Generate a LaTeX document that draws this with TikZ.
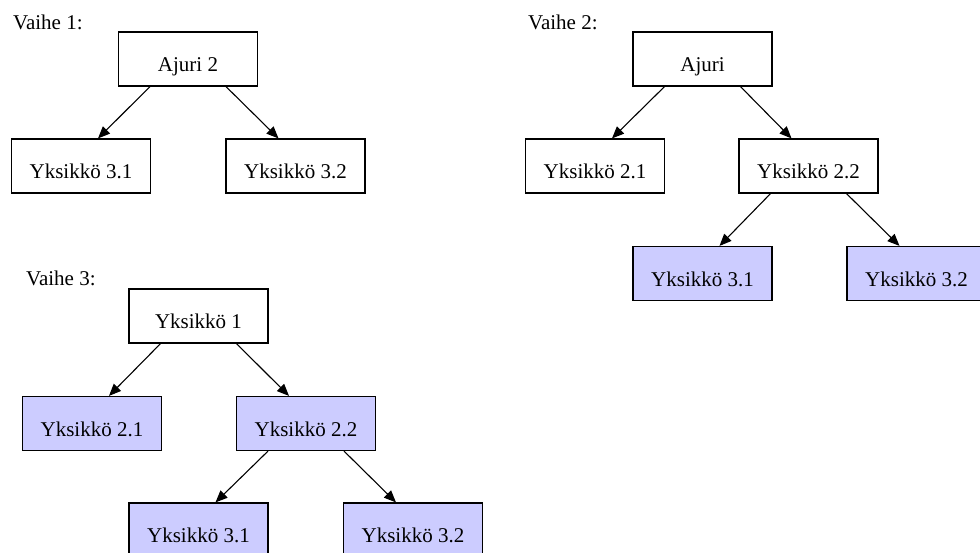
\documentclass[tikz,border=0pt]{standalone}
\usepackage{fontspec}
\setmainfont{Liberation Serif}
\usetikzlibrary{arrows.meta, positioning}
\definecolor{vaiheblue}{RGB}{204, 204, 255}

\begin{document}
\begin{tikzpicture}[x=1pt, y=-1pt,
    laatikko/.style={draw, line width=1.2pt, minimum width=139pt, minimum height=54pt,
        inner sep=0pt, text height=25pt, text depth=0pt, font=\fontsize{21}{25}\selectfont},
    uusi/.style={laatikko, fill=vaiheblue},
    otsikko/.style={anchor=base west, inner sep=0pt, font=\fontsize{21}{25}\selectfont},
    nuoli/.style={-{Triangle[length=12pt, width=10pt]}, line width=1.1pt}]
    \useasboundingbox (0,0) rectangle (980,552);

    % Vaihe 1
    \node[otsikko] (v1) at (13,29) {Vaihe 1:};
    \node[laatikko] (a2) at (188,59) {Ajuri 2};
    \node[laatikko] (a31) at (81,166) {Yksikkö 3.1};
    \node[laatikko] (a32) at (295.5,166) {Yksikkö 3.2};
    \draw[nuoli] ([xshift=-38pt]a2.south) -- ([xshift=17pt]a31.north);
    \draw[nuoli] ([xshift=38pt]a2.south) -- ([xshift=-17pt]a32.north);

    % Vaihe 2
    \node[otsikko] (v2) at (528,29) {Vaihe 2:};
    \node[laatikko] (b0) at (702.5,59) {Ajuri};
    \node[laatikko] (b21) at (595,166) {Yksikkö 2.1};
    \node[laatikko] (b22) at (808.5,166) {Yksikkö 2.2};
    \node[uusi] (b31) at (702.5,273.5) {Yksikkö 3.1};
    \node[uusi] (b32) at (916.5,273.5) {Yksikkö 3.2};
    \draw[nuoli] ([xshift=-38pt]b0.south) -- ([xshift=17pt]b21.north);
    \draw[nuoli] ([xshift=38pt]b0.south) -- ([xshift=-17pt]b22.north);
    \draw[nuoli] ([xshift=-38pt]b22.south) -- ([xshift=17pt]b31.north);
    \draw[nuoli] ([xshift=38pt]b22.south) -- ([xshift=-17pt]b32.north);

    % Vaihe 3
    \node[otsikko] (v3) at (26,285) {Vaihe 3:};
    \node[laatikko] (c1) at (198.5,316) {Yksikkö 1};
    \node[uusi] (c21) at (92,423.5) {Yksikkö 2.1};
    \node[uusi] (c22) at (306,423.5) {Yksikkö 2.2};
    \node[uusi] (c31) at (198.5,530) {Yksikkö 3.1};
    \node[uusi] (c32) at (413,530) {Yksikkö 3.2};
    \draw[nuoli] ([xshift=-38pt]c1.south) -- ([xshift=17pt]c21.north);
    \draw[nuoli] ([xshift=38pt]c1.south) -- ([xshift=-17pt]c22.north);
    \draw[nuoli] ([xshift=-38pt]c22.south) -- ([xshift=17pt]c31.north);
    \draw[nuoli] ([xshift=38pt]c22.south) -- ([xshift=-17pt]c32.north);
\end{tikzpicture}
\end{document}
